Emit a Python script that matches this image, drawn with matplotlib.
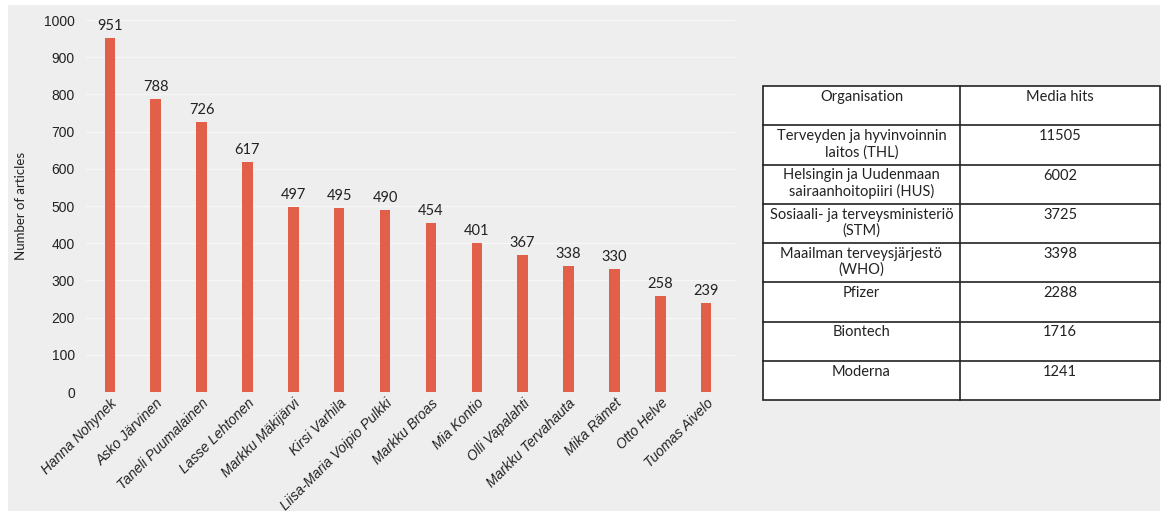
import matplotlib.pyplot as plt
from matplotlib.patches import Rectangle

names = ["Hanna Nohynek", "Asko Järvinen", "Taneli Puumalainen", "Lasse Lehtonen",
         "Markku Mäkijärvi", "Kirsi Varhila", "Liisa-Maria Voipio Pulkki", "Markku Broas",
         "Mia Kontio", "Olli Vapalahti", "Markku Tervahauta", "Mika Rämet",
         "Otto Helve", "Tuomas Aivelo"]
articles = [951, 788, 726, 617, 497, 495, 490, 454, 401, 367, 338, 330, 258, 239]

organisations = ["Terveyden ja hyvinvoinnin\nlaitos (THL)",
                 "Helsingin ja Uudenmaan\nsairaanhoitopiiri (HUS)",
                 "Sosiaali- ja terveysministeriö\n(STM)",
                 "Maailman terveysjärjestö\n(WHO)",
                 "Pfizer", "Biontech", "Moderna"]
media_hits = [11505, 6002, 3725, 3398, 2288, 1716, 1241]
headers = ["Organisation", "Media hits"]

BG = "#eeeeee"
BAR = "#e2604a"
W, H = 1166, 515

fig = plt.figure(figsize=(W / 100, H / 100), dpi=100)
fig.patch.set_facecolor("white")
fig.patches.append(Rectangle((8 / W, 1 - 511 / H), 1152 / W, 506 / H,
                             transform=fig.transFigure, facecolor=BG,
                             edgecolor="none", zorder=-10))

# bar chart
ax = fig.add_axes([86 / W, 1 - 392 / H, (735 - 86) / W, (392 - 20) / H])
ax.set_facecolor(BG)
x = range(len(names))
ax.bar(x, articles, width=0.23, color=BAR, zorder=3)
for xi, v in zip(x, articles):
    ax.text(xi, v + 14, str(v), ha="center", va="bottom", fontsize=10.5,
            family="Lato", color="#222222")
ax.set_ylim(0, 1000)
ax.set_xlim(-0.52, 13.63)
ax.set_yticks(range(0, 1001, 100))
ax.tick_params(axis="y", length=0, labelsize=10, pad=8, labelcolor="#222222")
ax.tick_params(axis="x", length=0, pad=3)
ax.set_xticks(list(x))
ax.set_xticklabels(names, rotation=45, ha="right", rotation_mode="anchor",
                   fontsize=10, family="Liberation Sans", style="italic",
                   color="#222222")
for lab in ax.get_yticklabels():
    lab.set_family("Liberation Sans")
ax.grid(axis="y", color="#f7f7f7", linewidth=1, zorder=0)
for s in ax.spines.values():
    s.set_visible(False)
ax.set_ylabel("Number of articles", fontsize=9.5, family="Lato",
              color="#222222", labelpad=12)

# table
tx0, tx1, tcol = 763, 1160, 960
ty0, ty1 = 86, 400
nrows = len(organisations) + 1
rh = (ty1 - ty0) / nrows
tab = fig.add_axes([0, 0, 1, 1])
tab.set_xlim(0, W)
tab.set_ylim(H, 0)
tab.axis("off")
tab.add_patch(Rectangle((tx0, ty0), tx1 - tx0, ty1 - ty0, facecolor="white",
                        edgecolor="#222222", linewidth=1.2))
tab.plot([tcol, tcol], [ty0, ty1], color="#222222", linewidth=1.2)
for i in range(1, nrows):
    y = ty0 + i * rh
    tab.plot([tx0, tx1], [y, y], color="#222222", linewidth=1.2)
rows = [headers] + [[o, str(h)] for o, h in zip(organisations, media_hits)]
for i, (a, b) in enumerate(rows):
    y = ty0 + i * rh + 4
    tab.text((tx0 + tcol) / 2, y, a, ha="center", va="top", fontsize=10.5,
             family="Lato", color="#222222", linespacing=1.15)
    tab.text((tcol + tx1) / 2, y, b, ha="center", va="top", fontsize=10.5,
             family="Lato", color="#222222")

fig.savefig("out.png", dpi=100, facecolor=fig.get_facecolor())
